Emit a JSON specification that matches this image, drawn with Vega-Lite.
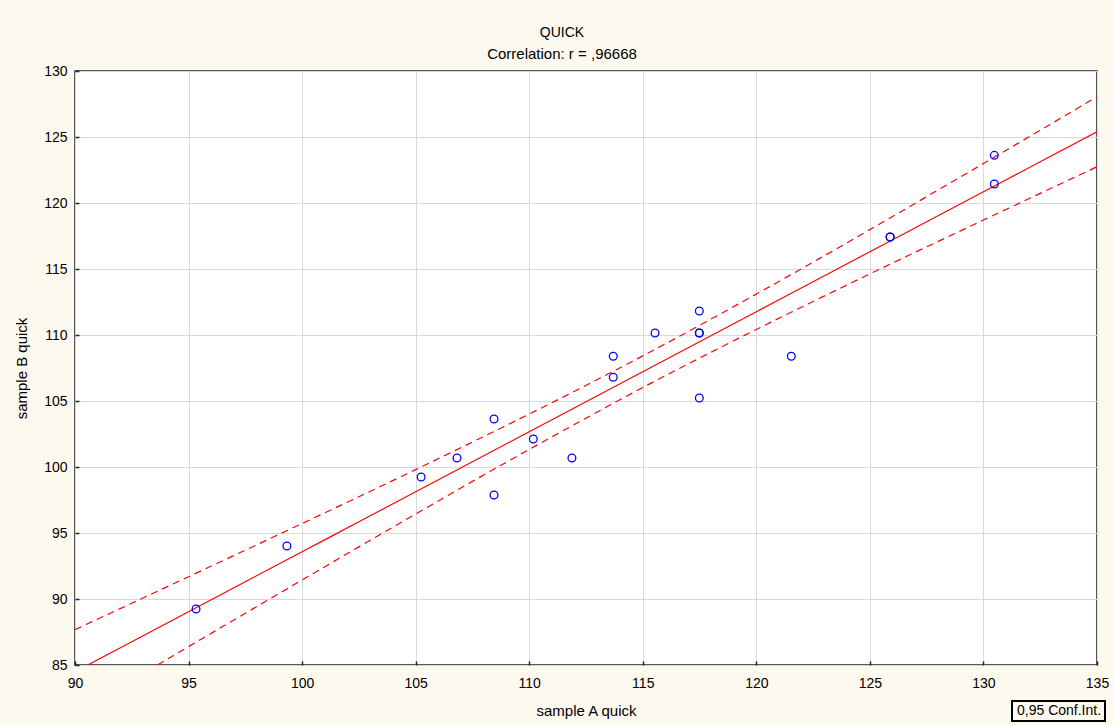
{
  "$schema": "https://vega.github.io/schema/vega-lite/v6.json",
  "width": 1022,
  "height": 594,
  "autosize": {"type": "none"},
  "padding": {"left": 75, "top": 71, "right": 16, "bottom": 60},
  "background": "#FDF9EE",
  "title": {
    "text": "QUICK",
    "subtitle": "Correlation: r = ,96668",
    "anchor": "middle",
    "frame": "group",
    "dx": -24,
    "offset": 2,
    "font": "Liberation Sans",
    "fontSize": 14,
    "fontWeight": "normal",
    "color": "#000000",
    "subtitleFont": "Liberation Sans",
    "subtitleFontSize": 15,
    "subtitleColor": "#000000",
    "subtitlePadding": 7
  },
  "config": {
    "view": {"stroke": "#222222", "strokeWidth": 1.5, "fill": "#FFFFFF"},
    "axis": {
      "labelFont": "Liberation Sans",
      "labelFontSize": 14,
      "labelColor": "#000000",
      "labelFlush": false,
      "labelOverlap": false,
      "titleFont": "Liberation Sans",
      "titleFontSize": 15,
      "titleFontWeight": "normal",
      "titleColor": "#000000",
      "gridColor": "#D9D9D9",
      "gridWidth": 1,
      "gridOpacity": 1,
      "domain": false,
      "tickColor": "#222222",
      "tickWidth": 1.5
    },
    "legend": {
      "labelFont": "Liberation Sans",
      "labelFontSize": 14,
      "labelColor": "#000000"
    }
  },
  "datasets": {
    "pts": [
      {"a": 95.33, "b": 89.24},
      {"a": 99.33, "b": 94.02},
      {"a": 105.24, "b": 99.24},
      {"a": 106.82, "b": 100.68},
      {"a": 108.45, "b": 103.64},
      {"a": 108.45, "b": 97.88},
      {"a": 110.18, "b": 102.12},
      {"a": 111.88, "b": 100.68},
      {"a": 113.7, "b": 108.39},
      {"a": 113.7, "b": 106.8},
      {"a": 115.54, "b": 110.15},
      {"a": 117.49, "b": 111.82},
      {"a": 117.49, "b": 110.15},
      {"a": 117.49, "b": 110.15},
      {"a": 117.49, "b": 105.23},
      {"a": 121.54, "b": 108.39},
      {"a": 125.89, "b": 117.42},
      {"a": 125.89, "b": 117.42},
      {"a": 130.48, "b": 123.61},
      {"a": 130.48, "b": 121.44}
    ],
    "fit": [
      {"a": 90, "fit": 84.49, "lo": 81.3, "hi": 87.68},
      {"a": 92.5, "fit": 86.76, "lo": 83.85, "hi": 89.68},
      {"a": 95, "fit": 89.04, "lo": 86.39, "hi": 91.69},
      {"a": 97.5, "fit": 91.31, "lo": 88.92, "hi": 93.7},
      {"a": 100, "fit": 93.58, "lo": 91.44, "hi": 95.72},
      {"a": 102.5, "fit": 95.85, "lo": 93.95, "hi": 97.75},
      {"a": 105, "fit": 98.12, "lo": 96.44, "hi": 99.8},
      {"a": 107.5, "fit": 100.4, "lo": 98.91, "hi": 101.89},
      {"a": 110, "fit": 102.67, "lo": 101.33, "hi": 104.01},
      {"a": 112.5, "fit": 104.94, "lo": 103.7, "hi": 106.18},
      {"a": 115, "fit": 107.22, "lo": 106.02, "hi": 108.42},
      {"a": 117.5, "fit": 109.49, "lo": 108.25, "hi": 110.73},
      {"a": 120, "fit": 111.76, "lo": 110.42, "hi": 113.1},
      {"a": 122.5, "fit": 114.03, "lo": 112.54, "hi": 115.52},
      {"a": 125, "fit": 116.31, "lo": 114.63, "hi": 117.99},
      {"a": 127.5, "fit": 118.58, "lo": 116.68, "hi": 120.48},
      {"a": 130, "fit": 120.85, "lo": 118.71, "hi": 122.99},
      {"a": 132.5, "fit": 123.12, "lo": 120.73, "hi": 125.51},
      {"a": 135, "fit": 125.4, "lo": 122.75, "hi": 128.05}
    ]
  },
  "layer": [
    {
      "data": {"name": "fit"},
      "mark": {"type": "line", "color": "#FF0000", "strokeWidth": 1.2, "clip": true, "interpolate": "monotone"},
      "encoding": {
        "x": {
          "field": "a", "type": "quantitative",
          "scale": {"domain": [90, 135], "nice": false, "zero": false},
          "axis": {"title": "sample A quick", "values": [90, 95, 100, 105, 110, 115, 120, 125, 130, 135], "tickSize": -4, "labelPadding": 15, "titlePadding": 13}
        },
        "y": {
          "field": "fit", "type": "quantitative",
          "scale": {"domain": [85, 130], "nice": false, "zero": false},
          "axis": {"title": "sample B quick", "values": [85, 90, 95, 100, 105, 110, 115, 120, 125, 130], "tickSize": -4, "labelPadding": 12, "titlePadding": 14}
        }
      }
    },
    {
      "data": {"name": "fit"},
      "mark": {"type": "line", "strokeWidth": 1.2, "strokeDash": [7, 5], "clip": true, "interpolate": "monotone"},
      "encoding": {
        "x": {"field": "a", "type": "quantitative"},
        "y": {"field": "lo", "type": "quantitative"},
        "color": {
          "datum": "0,95 Conf.Int.",
          "scale": {"domain": ["0,95 Conf.Int."], "range": ["#FF0000"]},
          "legend": {
            "title": null,
            "orient": "none",
            "legendX": 937,
            "legendY": 630,
            "symbolSize": 0.01,
            "symbolStrokeWidth": 0,
            "symbolOpacity": 0,
            "labelOffset": -12,
            "padding": 3,
            "strokeColor": "#000000",
            "fillColor": "#FDF9EE",
            "symbolType": "circle",
            "encode": {"legend": {"update": {"strokeWidth": {"value": 2}}}}
          }
        }
      }
    },
    {
      "data": {"name": "fit"},
      "mark": {"type": "line", "strokeWidth": 1.2, "strokeDash": [7, 5], "clip": true, "interpolate": "monotone"},
      "encoding": {
        "x": {"field": "a", "type": "quantitative"},
        "y": {"field": "hi", "type": "quantitative"},
        "color": {"datum": "0,95 Conf.Int."}
      }
    },
    {
      "data": {"name": "pts"},
      "mark": {"type": "point", "shape": "circle", "filled": false, "color": "#0000FF", "size": 60, "strokeWidth": 1.3, "opacity": 1},
      "encoding": {
        "x": {"field": "a", "type": "quantitative"},
        "y": {"field": "b", "type": "quantitative"}
      }
    }
  ]
}
